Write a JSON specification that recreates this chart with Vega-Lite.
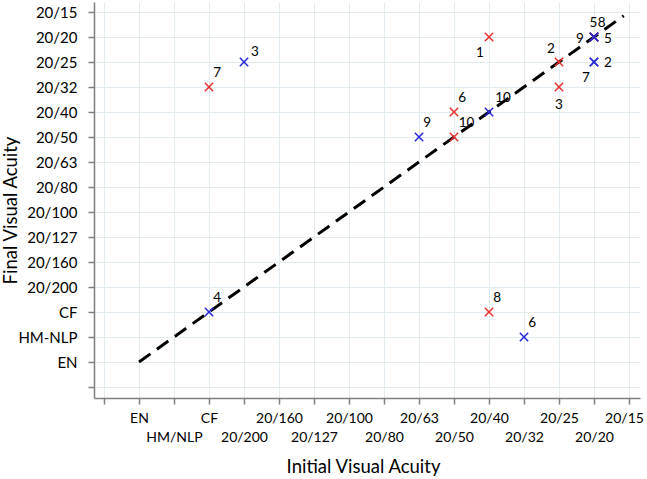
{
  "$schema": "https://vega.github.io/schema/vega-lite/v6.json",
  "width": 546,
  "height": 396,
  "autosize": {"type": "none"},
  "padding": {"left": 94, "top": 2, "right": 7, "bottom": 81},
  "config": {"view": {"stroke": null}, "font": "Lato"},
  "datasets": {
    "diag": [{"x": 1, "y": 1}, {"x": 14.85, "y": 14.85}],
    "pts": [
      {"group": "red", "id": 1, "x": 11, "y": 14},
      {"group": "red", "id": 2, "x": 13, "y": 13},
      {"group": "red", "id": 3, "x": 13, "y": 12},
      {"group": "red", "id": 5, "x": 14, "y": 14},
      {"group": "red", "id": 6, "x": 10, "y": 11},
      {"group": "red", "id": 7, "x": 3, "y": 12},
      {"group": "red", "id": 8, "x": 11, "y": 3},
      {"group": "red", "id": 9, "x": 14, "y": 14},
      {"group": "red", "id": 10, "x": 10, "y": 10},
      {"group": "blue", "id": 2, "x": 14, "y": 13},
      {"group": "blue", "id": 3, "x": 4, "y": 13},
      {"group": "blue", "id": 4, "x": 3, "y": 3},
      {"group": "blue", "id": 5, "x": 14, "y": 14},
      {"group": "blue", "id": 6, "x": 12, "y": 2},
      {"group": "blue", "id": 7, "x": 14, "y": 13},
      {"group": "blue", "id": 8, "x": 14, "y": 14},
      {"group": "blue", "id": 9, "x": 9, "y": 10},
      {"group": "blue", "id": 10, "x": 11, "y": 11}
    ],
    "labels": [
      {"t": "1", "x": 10.74, "y": 13.36},
      {"t": "2", "x": 12.77, "y": 13.52},
      {"t": "3", "x": 13.0, "y": 11.28},
      {"t": "6", "x": 10.23, "y": 11.56},
      {"t": "10", "x": 10.36, "y": 10.56},
      {"t": "7", "x": 3.23, "y": 12.56},
      {"t": "8", "x": 11.23, "y": 3.56},
      {"t": "5", "x": 13.98, "y": 14.58},
      {"t": "8", "x": 14.22, "y": 14.58},
      {"t": "9", "x": 13.6, "y": 13.92},
      {"t": "5", "x": 14.4, "y": 13.92},
      {"t": "2", "x": 14.4, "y": 12.96},
      {"t": "7", "x": 13.77, "y": 12.36},
      {"t": "3", "x": 4.31, "y": 13.4},
      {"t": "4", "x": 3.23, "y": 3.56},
      {"t": "9", "x": 9.23, "y": 10.56},
      {"t": "10", "x": 11.4, "y": 11.56},
      {"t": "6", "x": 12.23, "y": 2.56}
    ]
  },
  "encoding": {
    "x": {
      "field": "x",
      "type": "quantitative",
      "scale": {"domain": [-0.286, 15.314], "nice": false, "zero": false},
      "axis": {
        "values": [0, 1, 2, 3, 4, 5, 6, 7, 8, 9, 10, 11, 12, 13, 14, 15],
        "labelExpr": "datum.value % 2 == 0 ? ['', ['','EN','HM/NLP','CF','20/200','20/160','20/127','20/100','20/80','20/63','20/50','20/40','20/32','20/25','20/20','20/15'][datum.value]] : ['','EN','HM/NLP','CF','20/200','20/160','20/127','20/100','20/80','20/63','20/50','20/40','20/32','20/25','20/20','20/15'][datum.value]",
        "labelOffset": {"condition": {"test": "datum.value == 15", "value": -5}, "value": 0},
        "title": "Initial Visual Acuity",
        "grid": true,
        "gridColor": "#e2ebf0",
        "gridWidth": 1,
        "domainColor": "#7f7f7f",
        "domainWidth": 1.5,
        "tickColor": "#7f7f7f",
        "tickWidth": 1.5,
        "tickSize": 6,
        "labelFontSize": 14,
        "labelColor": "#000000",
        "labelPadding": 7,
        "labelLineHeight": 19,
        "labelOverlap": false,
        "labelFlush": false,
        "labelBound": false,
        "titleFontSize": 18.5,
        "titleFontWeight": "normal",
        "titleColor": "#000000",
        "titleX": 269,
        "titleY": 68,
        "titleBaseline": "middle"
      }
    },
    "y": {
      "field": "y",
      "type": "quantitative",
      "scale": {"domain": [-0.44, 15.4], "nice": false, "zero": false},
      "axis": {
        "values": [0, 1, 2, 3, 4, 5, 6, 7, 8, 9, 10, 11, 12, 13, 14, 15],
        "labelExpr": "['','EN','HM-NLP','CF','20/200','20/160','20/127','20/100','20/80','20/63','20/50','20/40','20/32','20/25','20/20','20/15'][datum.value]",
        "title": "Final Visual Acuity",
        "grid": true,
        "gridColor": "#e2ebf0",
        "gridWidth": 1,
        "domainColor": "#7f7f7f",
        "domainWidth": 1.5,
        "tickColor": "#7f7f7f",
        "tickWidth": 1.5,
        "tickSize": 6,
        "labelFontSize": 15,
        "labelColor": "#000000",
        "labelPadding": 11,
        "labelOverlap": false,
        "labelFlush": false,
        "labelBound": false,
        "titleFontSize": 18.5,
        "titleFontWeight": "normal",
        "titleColor": "#000000",
        "titleX": -84,
        "titleY": 208,
        "titleBaseline": "middle"
      }
    }
  },
  "layer": [
    {
      "data": {"name": "diag"},
      "mark": {"type": "line", "strokeDash": [14, 8], "strokeWidth": 3, "color": "#000000"}
    },
    {
      "data": {"name": "pts"},
      "mark": {"type": "point", "shape": "M-1,-1L1,1M1,-1L-1,1", "filled": false, "size": 70, "strokeWidth": 1.5, "opacity": 1},
      "encoding": {
        "color": {"field": "group", "type": "nominal", "scale": {"domain": ["red", "blue"], "range": ["#e8302c", "#2727d4"]}, "legend": null}
      }
    },
    {
      "data": {"name": "labels"},
      "mark": {"type": "text", "fontSize": 13.5, "color": "#000000", "font": "Lato"},
      "encoding": {"text": {"field": "t", "type": "nominal"}}
    }
  ]
}
